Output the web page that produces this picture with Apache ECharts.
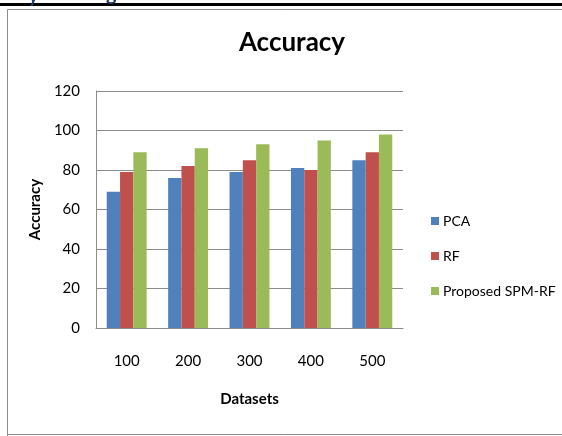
<!DOCTYPE html>
<html>
<head>
<meta charset="utf-8">
<script src="https://cdn.jsdelivr.net/npm/echarts@6/dist/echarts.min.js"></script>
<style>html,body{margin:0;padding:0;background:#fff;}#c{width:562px;height:436px;}</style>
</head>
<body>
<div id="c"></div>
<script>
var categories = ['100', '200', '300', '400', '500'];
var pcaValues = [69, 76, 79, 81, 85];
var rfValues = [79, 82, 85, 80, 89];
var spmValues = [89, 91, 93, 95, 98];
var seriesNames = ['PCA', 'RF', 'Proposed SPM-RF'];
var yTicks = [0, 20, 40, 60, 80, 100, 120];

var chart = echarts.init(document.getElementById('c'), null, {renderer: 'canvas'});
var font = 'Lato';
var option = {
  backgroundColor: '#ffffff',
  animation: false,
  color: ['#4F81BD', '#C0504D', '#9BBB59'],
  title: {
    text: 'Accuracy',
    left: 287, top: 25, textAlign: 'center',
    textStyle: {fontFamily: font, fontWeight: 'bold', fontSize: 26, color: '#000'}
  },
  graphic: [
    {type: 'rect', shape: {x: 0, y: 3, width: 562, height: 3}, style: {fill: '#000'}, silent: true},
    {type: 'polyline', shape: {points: [[7.5, 436], [7.5, 9.5], [562, 9.5]]}, style: {stroke: '#8c8c8c', lineWidth: 1, fill: null}, silent: true},
    {type: 'line', shape: {x1: 7, y1: 434.5, x2: 562, y2: 434.5}, style: {stroke: '#8c8c8c', lineWidth: 1}, silent: true},
    {type: 'text', left: 28, top: -14, style: {text: 'y', font: 'bold 20px Lato', fill: '#1F3864'}, silent: true},
    {type: 'text', left: 106, top: -16, style: {text: 'g', font: 'bold 20px Lato', fill: '#1F3864'}, silent: true}
  ],
  legend: {
    orient: 'vertical',
    left: 426, top: 209,
    itemWidth: 8, itemHeight: 8, itemGap: 21,
    icon: 'rect',
    textStyle: {fontFamily: font, fontSize: 14, color: '#000', padding: [0, 0, 0, -1]},
    data: seriesNames
  },
  grid: {left: 96, right: 159, top: 91, bottom: 108, containLabel: false},
  xAxis: {
    type: 'category',
    data: categories,
    name: 'Datasets',
    nameLocation: 'middle',
    nameGap: 64,
    nameTextStyle: {fontFamily: font, fontWeight: 'bold', fontSize: 15, color: '#000'},
    axisLine: {lineStyle: {color: '#8c8c8c'}},
    axisTick: {show: false},
    axisLabel: {fontFamily: font, fontSize: 15, color: '#000', margin: 26}
  },
  yAxis: {
    type: 'value',
    min: 0, max: 120, interval: 20,
    name: 'Accuracy',
    nameLocation: 'middle',
    nameGap: 50,
    nameTextStyle: {fontFamily: font, fontWeight: 'bold', fontSize: 15, color: '#000'},
    axisLine: {show: true, lineStyle: {color: '#8c8c8c'}},
    axisTick: {show: false},
    axisLabel: {fontFamily: font, fontSize: 15, color: '#000', margin: 16,
      formatter: function (v) { return yTicks.indexOf(v) >= 0 ? String(v) : ''; }},
    splitLine: {lineStyle: {color: '#8c8c8c'}}
  },
  series: [
    {name: seriesNames[0], type: 'bar', data: pcaValues, barGap: '0%', barCategoryGap: '35%'},
    {name: seriesNames[1], type: 'bar', data: rfValues, barGap: '0%', barCategoryGap: '35%'},
    {name: seriesNames[2], type: 'bar', data: spmValues, barGap: '0%', barCategoryGap: '35%'}
  ]
};
chart.setOption(option);
</script>
</body>
</html>
